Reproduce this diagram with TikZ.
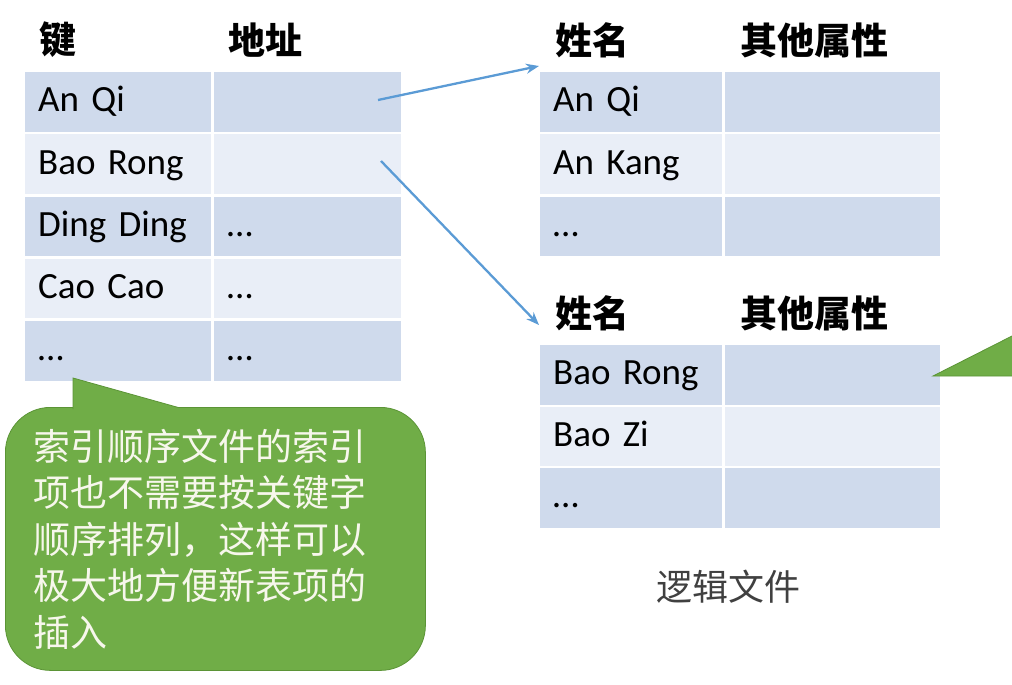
\documentclass[tikz,border=0pt]{standalone}
\usepackage{fontspec}
\setmainfont{Carlito}
\newfontfamily\cjk{Noto Sans CJK SC}
\usetikzlibrary{arrows.meta}
\definecolor{rowdark}{HTML}{CFDAEC}
\definecolor{rowlight}{HTML}{E9EEF7}
\definecolor{notegreen}{HTML}{70AD47}
\definecolor{noteedge}{HTML}{5B9436}
\definecolor{linkblue}{HTML}{5B9BD5}
\definecolor{captiongray}{HTML}{404040}
\definecolor{notefont}{HTML}{F7F7EC}
\tikzset{
  cell/.style={anchor=north west, rectangle, inner xsep=13pt, inner ysep=0pt,
    minimum height=59.5pt, text height=27pt, text depth=7pt, align=left,
    font=\fontsize{37}{40}\selectfont},
  dark/.style={fill=rowdark},
  light/.style={fill=rowlight},
  hdr/.style={anchor=west, inner sep=0pt, font=\cjk\bfseries\fontsize{37}{40}\selectfont},
  link/.style={draw=linkblue, line width=2.3pt, -{Stealth[length=13pt,width=10pt]}},
  notebox/.style={fill=notegreen, draw=noteedge, line width=0.8pt, rounded corners=45pt},
  notetext/.style={text=notefont, font=\cjk\fontsize{37}{46.5}\selectfont, align=left},
}
\begin{document}
\begin{tikzpicture}[x=1pt,y=-1pt]
\useasboundingbox (0,0) rectangle (1012,685);
% ---------- left index table ----------
\node[hdr] (hk) at (39,40) {键};
\node[hdr] (ha) at (228,40) {地址};
\node[cell,dark,  minimum width=186pt, text width=160pt] (l1a) at (25,72)    {An Qi};
\node[cell,dark,  minimum width=187pt, text width=161pt] (l1b) at (214,72)   {};
\node[cell,light, minimum width=186pt, text width=160pt] (l2a) at (25,134.2) {Bao Rong};
\node[cell,light, minimum width=187pt, text width=161pt] (l2b) at (214,134.2) {};
\node[cell,dark,  minimum width=186pt, text width=160pt] (l3a) at (25,196.4) {Ding Ding};
\node[cell,dark,  minimum width=187pt, text width=161pt] (l3b) at (214,196.4) {…};
\node[cell,light, minimum width=186pt, text width=160pt] (l4a) at (25,258.6) {Cao Cao};
\node[cell,light, minimum width=187pt, text width=161pt] (l4b) at (214,258.6) {…};
\node[cell,dark,  minimum width=186pt, text width=160pt] (l5a) at (25,320.8) {…};
\node[cell,dark,  minimum width=187pt, text width=161pt] (l5b) at (214,320.8) {…};
% ---------- right top table ----------
\node[hdr] (rh1) at (555,40) {姓名};
\node[hdr] (rh2) at (740,40) {其他属性};
\node[cell,dark,  minimum width=182pt, text width=156pt] (r1a) at (540,72)    {An Qi};
\node[cell,dark,  minimum width=215pt, text width=189pt] (r1b) at (725,72)    {};
\node[cell,light, minimum width=182pt, text width=156pt] (r2a) at (540,134.2) {An Kang};
\node[cell,light, minimum width=215pt, text width=189pt] (r2b) at (725,134.2) {};
\node[cell,dark,  minimum width=182pt, text width=156pt] (r3a) at (540,196.4) {…};
\node[cell,dark,  minimum width=215pt, text width=189pt] (r3b) at (725,196.4) {};
% ---------- right bottom table ----------
\node[hdr] (sh1) at (555,313) {姓名};
\node[hdr] (sh2) at (740,313) {其他属性};
\node[cell,dark,  minimum width=182pt, text width=156pt] (s1a) at (540,345)   {Bao Rong};
\node[cell,dark,  minimum width=215pt, text width=189pt] (s1b) at (725,345)   {};
\node[cell,light, minimum width=182pt, text width=156pt] (s2a) at (540,406.5) {Bao Zi};
\node[cell,light, minimum width=215pt, text width=189pt] (s2b) at (725,406.5) {};
\node[cell,dark,  minimum width=182pt, text width=156pt] (s3a) at (540,468)   {…};
\node[cell,dark,  minimum width=215pt, text width=189pt] (s3b) at (725,468)   {};
% ---------- caption ----------
\node[text=captiongray, font=\cjk\fontsize{36}{40}\selectfont, inner sep=0pt] (cap) at (728,587) {逻辑文件};
% ---------- arrows ----------
\coordinate (a1s) at (378,100);
\coordinate (a1e) at (539,66);
\coordinate (a2s) at (381,161);
\coordinate (a2e) at (539,325);
\draw[link] (a1s) -- (a1e);
\draw[link] (a2s) -- (a2e);
% ---------- left callout ----------
\node[notebox, anchor=north west, minimum width=420pt, minimum height=263pt,
      inner xsep=28pt, inner ysep=0pt, text width=364pt, notetext] (note) at (5,407)
  {索引顺序文件的索引\\项也不需要按关键字\\顺序排列，这样可以\\极大地方便新表项的\\插入};
\coordinate (ptip) at (73,378);
\coordinate (pl) at (73,409);
\coordinate (pr) at (178,407.4);
\fill[notegreen] (ptip) -- (pl) -- (178,409) -- (pr) -- cycle;
\draw[noteedge, line width=0.8pt] (pl) -- (ptip) -- (pr);
% ---------- right callout pointer (cut off) ----------
\coordinate (qtip) at (933,376);
\coordinate (qt) at (1012,336);
\coordinate (qb) at (1012,376);
\fill[notegreen] (qtip) -- (qt) -- (qb) -- cycle;
\draw[noteedge, line width=0.8pt] (qb) -- (qtip) -- (qt);
\end{tikzpicture}
\end{document}
